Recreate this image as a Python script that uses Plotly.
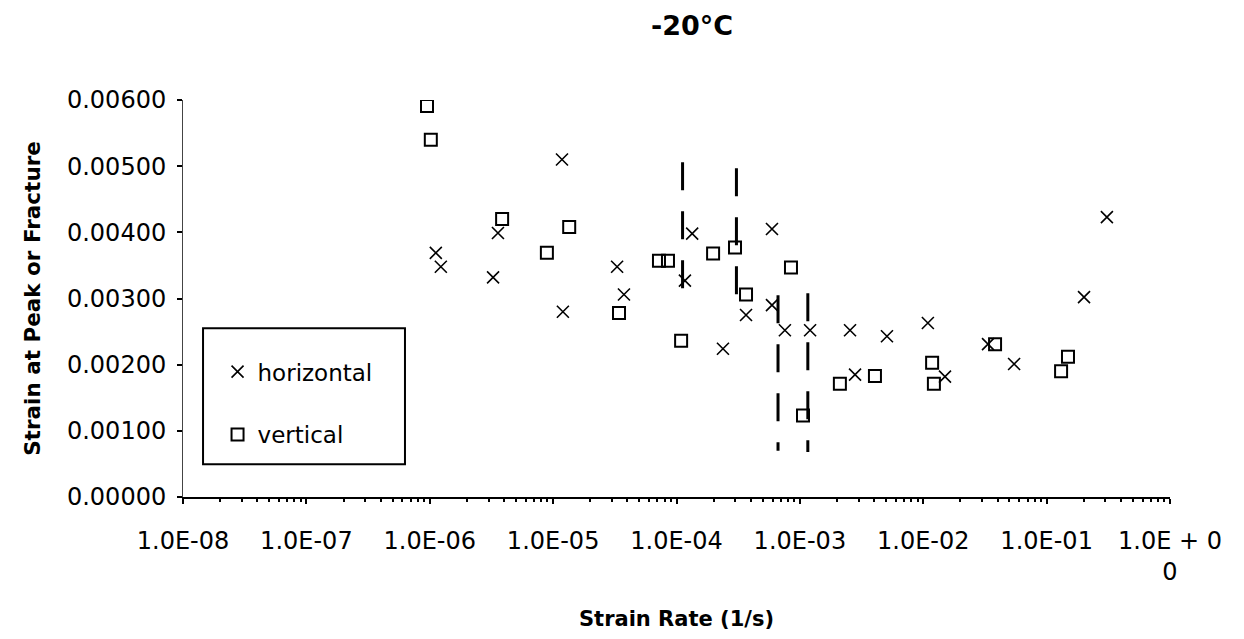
import plotly.graph_objects as go

# Strain at peak or fracture vs. strain rate, -20 °C tests
h_rate = [1.12e-6, 1.23e-6, 3.26e-6, 3.57e-6, 1.18e-5, 1.20e-5, 3.30e-5, 3.75e-5,
          1.17e-4, 1.34e-4, 2.38e-4, 3.66e-4, 5.94e-4, 5.94e-4, 7.56e-4, 1.21e-3,
          2.55e-3, 2.80e-3, 5.08e-3, 1.09e-2, 1.50e-2, 3.35e-2, 5.45e-2, 0.201, 0.308]
h_strain = [0.00369, 0.00348, 0.00332, 0.00399, 0.00510, 0.00280, 0.00348, 0.00306,
            0.00327, 0.00398, 0.00224, 0.00275, 0.00405, 0.00290, 0.00252, 0.00252,
            0.00252, 0.00185, 0.00243, 0.00263, 0.00182, 0.00231, 0.00201, 0.00302, 0.00423]

v_rate = [9.5e-7, 1.02e-6, 3.86e-6, 8.9e-6, 1.35e-5, 3.42e-5, 7.21e-5, 8.53e-5, 1.09e-4,
          1.98e-4, 2.98e-4, 3.66e-4, 8.47e-4, 1.06e-3, 2.11e-3, 4.06e-3, 1.18e-2, 1.22e-2,
          3.82e-2, 0.131, 0.149]
v_strain = [0.00591, 0.00540, 0.00420, 0.00369, 0.00408, 0.00278, 0.00357, 0.00357, 0.00236,
            0.00368, 0.00377, 0.00306, 0.00347, 0.00123, 0.00171, 0.00183, 0.00203, 0.00171,
            0.00231, 0.00190, 0.00212]

# dashed scatter bands
band_rate = [1.12e-4, 3.06e-4, 6.65e-4, 1.16e-3]
band_top = [0.00506, 0.00497, 0.00305, 0.00308]
band_bottom = [0.00296, 0.00285, 0.00070, 0.00068]

x_tick_vals = [1e-8, 1e-7, 1e-6, 1e-5, 1e-4, 1e-3, 1e-2, 1e-1, 1e0]
x_tick_text = ["1.0E-08", "1.0E-07", "1.0E-06", "1.0E-05", "1.0E-04",
               "1.0E-03", "1.0E-02", "1.0E-01", "1.0E + 0<br>0"]
y_tick_vals = [0.0, 0.001, 0.002, 0.003, 0.004, 0.005, 0.006]
y_tick_text = ["0.00000", "0.00100", "0.00200", "0.00300", "0.00400", "0.00500", "0.00600"]

fig = go.Figure()

fig.add_trace(go.Scatter(
    x=h_rate, y=h_strain, mode="markers", name="horizontal",
    legendgroup="h",
    marker=dict(symbol="x-thin", size=12, color="black",
                line=dict(color="black", width=1.6)),
))
fig.add_trace(go.Scatter(
    x=v_rate, y=v_strain, mode="markers", name="vertical",
    legendgroup="v",
    marker=dict(symbol="square-open", size=12, color="black",
                line=dict(color="black", width=2)),
))

for r, top, bot in zip(band_rate, band_top, band_bottom):
    fig.add_trace(go.Scatter(
        x=[r, r], y=[top, bot], mode="lines", showlegend=False, hoverinfo="skip",
        line=dict(color="black", width=3, dash="28px,21px"),
    ))

# legend frame
fig.add_shape(type="rect", xref="paper", yref="paper",
              x0=0.0203, x1=0.2249, y0=0.0825, y1=0.425,
              line=dict(color="black", width=2), fillcolor="rgba(0,0,0,0)")

fig.update_layout(
    width=1244, height=639,
    margin=dict(l=183, r=74, t=100, b=139),
    paper_bgcolor="white", plot_bgcolor="white",
    font=dict(family="DejaVu Sans", size=24, color="black"),
    title=dict(text="<b>-20°C</b>", x=692 / 1244, xanchor="center",
               y=1 - 26 / 639, yanchor="middle",
               font=dict(family="DejaVu Sans", size=27, color="black")),
    showlegend=True,
    legend=dict(x=0.035, y=0.37, xanchor="left", yanchor="top",
                bgcolor="rgba(0,0,0,0)", borderwidth=0,
                traceorder="grouped", tracegroupgap=30,
                font=dict(family="DejaVu Sans", size=23, color="black")),
    xaxis=dict(
        type="log", range=[-8, 0],
        tickmode="array", tickvals=x_tick_vals, ticktext=x_tick_text,
        ticks="outside", ticklen=5, tickwidth=1.5, tickcolor="black",
        ticklabelstandoff=16,
        minor=dict(ticks="outside", ticklen=3, tickcolor="black", dtick="D1", showgrid=False),
        showline=True, linecolor="black", linewidth=2,
        showgrid=False, zeroline=False,
        tickfont=dict(family="DejaVu Sans", size=24, color="black"),
        title=dict(text="<b>Strain Rate (1/s)</b>", standoff=26,
                   font=dict(family="DejaVu Sans", size=21, color="black")),
    ),
    yaxis=dict(
        range=[0, 0.006],
        tickmode="array", tickvals=y_tick_vals, ticktext=y_tick_text,
        ticks="outside", ticklen=5, tickwidth=1.5, tickcolor="black",
        ticklabelstandoff=6,
        showline=True, linecolor="#444", linewidth=1,
        showgrid=False, zeroline=False,
        tickfont=dict(family="DejaVu Sans", size=24, color="black"),
        title=dict(text="<b>Strain at Peak or Fracture</b>", standoff=20,
                   font=dict(family="DejaVu Sans", size=21.5, color="black")),
    ),
)

fig.write_html("out.html")
